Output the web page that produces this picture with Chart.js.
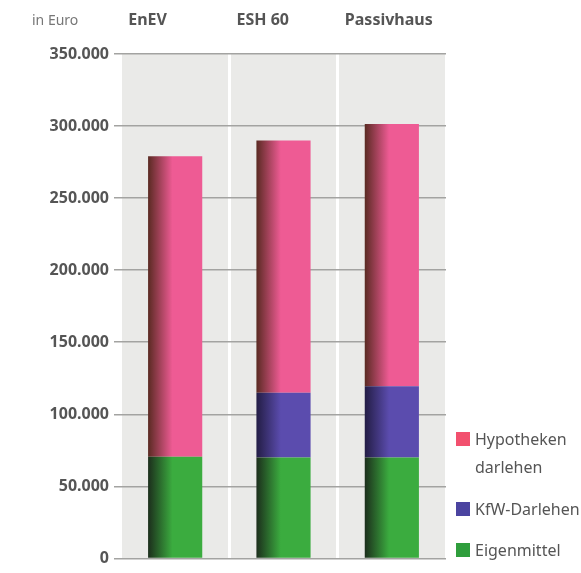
<!DOCTYPE html>
<html>
<head>
<meta charset="utf-8">
<script src="https://cdn.jsdelivr.net/npm/chart.js@4.4.1/dist/chart.umd.min.js"></script>
<style>
  html, body { margin: 0; padding: 0; background: #fff; }
  #wrap { position: relative; width: 581px; height: 573px; font-family: "Noto Sans", sans-serif; }
  #unit { position: absolute; left: 32px; top: 10px; font-size: 14px; color: #777; }
  #legend { position: absolute; left: 456px; top: 425px; font-size: 16px; color: #555; }
  .item { position: relative; padding-left: 19px; line-height: 28px; }
  .item span.box { position: absolute; left: 0; top: 7px; width: 14px; height: 14px; }
  .item.two { margin-bottom: 14px; }
  .item.one { margin-bottom: 13px; }
</style>
</head>
<body>
<div id="wrap">
  <canvas id="chart" width="581" height="573"></canvas>
  <div id="unit">in Euro</div>
  <div id="legend"></div>
</div>
<script>
const categories = ["EnEV", "ESH 60", "Passivhaus"];
const eigenmittel = [70500, 70000, 70000];
const kfwDarlehen = [0, 45000, 49500];
const hypotheken = [208500, 175000, 182000];
const yTicks = [0, 50000, 100000, 150000, 200000, 250000, 300000, 350000];

function fmt(v) {
  return String(v).replace(/\B(?=(\d{3})+(?!\d))/g, ".");
}

function barFill(base, dark) {
  return function (c) {
    const ch = c.chart, a = ch.chartArea;
    if (!a || c.type !== 'data') return base;
    const cx = ch.scales.x.getPixelForValue(c.dataIndex);
    const w = (a.right - a.left) / categories.length * 0.5;
    const g = ch.ctx.createLinearGradient(cx - w / 2, 0, cx + w / 2, 0);
    g.addColorStop(0, dark);
    g.addColorStop(0.45, base);
    g.addColorStop(1, base);
    return g;
  };
}

const chartBg = {
  id: 'chartBg',
  beforeDraw(chart) {
    const c = chart.ctx, a = chart.chartArea;
    c.save();
    c.fillStyle = '#ffffff';
    c.fillRect(0, 0, chart.width, chart.height);
    c.fillStyle = '#eaeae8';
    c.fillRect(a.left, a.top, a.right - a.left, a.bottom - a.top);
    c.restore();
  }
};

new Chart(document.getElementById('chart'), {
  type: 'bar',
  data: {
    labels: categories,
    datasets: [
      { label: 'Eigenmittel', data: eigenmittel,
        backgroundColor: barFill('#3bac3f', '#1c2e1c') },
      { label: 'KfW-Darlehen', data: kfwDarlehen,
        backgroundColor: barFill('#5b4cae', '#231d45') },
      { label: 'Hypotheken darlehen', data: hypotheken,
        backgroundColor: barFill('#ee5b94', '#5a2a22') }
    ]
  },
  options: {
    responsive: false,
    animation: false,
    barPercentage: 0.5,
    categoryPercentage: 1,
    layout: { padding: { left: 0, right: 135, top: 0, bottom: 7 } },
    plugins: { legend: { display: false }, tooltip: { enabled: false } },
    scales: {
      x: { stacked: true, display: false },
      x2: {
        type: 'category', labels: categories, position: 'top', offset: true,
        grid: { display: true, color: '#ffffff', lineWidth: 3, offset: true, drawTicks: false },
        border: { display: false },
        ticks: { font: { family: "Noto Sans", size: 16, weight: 'bold' }, color: '#555',
                 align: 'start', labelOffset: -47, padding: 24 },
        afterFit(s) { s.height = 54; }
      },
      y: {
        stacked: true, min: 0, max: 350000,
        afterBuildTicks(s) { s.ticks = yTicks.map(v => ({ value: v })); },
        grid: { color: '#a3a3a1', lineWidth: 1.5, tickLength: 7, tickColor: '#a3a3a1' },
        border: { display: false },
        ticks: { font: { family: "Noto Sans", size: 16, weight: 'bold' }, color: '#555',
                 padding: 5, callback: v => fmt(v) },
        afterFit(s) { s.width = 121; }
      }
    }
  },
  plugins: [chartBg]
});

// legend (Hypotheken on top, as in the original)
const legend = document.getElementById('legend');
const entries = [
  { lines: ['Hypotheken', 'darlehen'], color: '#f2506e' },
  { lines: ['KfW-Darlehen'], color: '#4b44a0' },
  { lines: ['Eigenmittel'], color: '#2f9e3c' }
];
entries.forEach(e => {
  const d = document.createElement('div');
  d.className = 'item ' + (e.lines.length > 1 ? 'two' : 'one');
  const b = document.createElement('span');
  b.className = 'box';
  b.style.background = e.color;
  d.appendChild(b);
  d.appendChild(document.createTextNode(e.lines[0]));
  for (let i = 1; i < e.lines.length; i++) {
    d.appendChild(document.createElement('br'));
    d.appendChild(document.createTextNode(e.lines[i]));
  }
  legend.appendChild(d);
});
</script>
</body>
</html>
